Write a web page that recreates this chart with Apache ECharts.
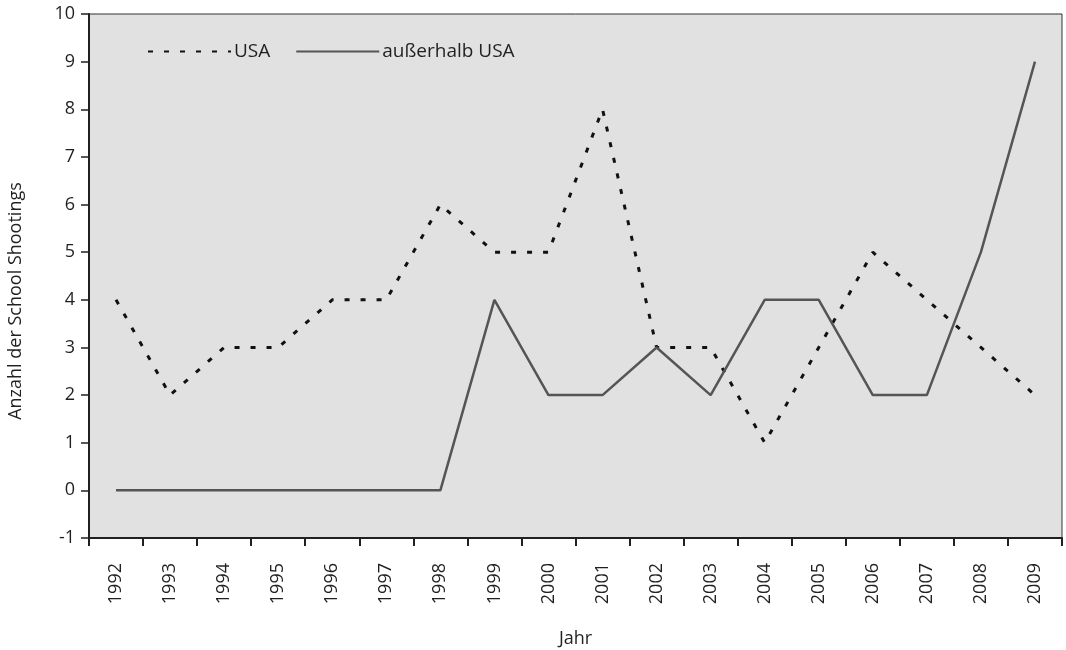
<!DOCTYPE html>
<html>
<head>
<meta charset="utf-8">
<script src="https://cdn.jsdelivr.net/npm/echarts@6/dist/echarts.min.js"></script>
<style>
  html, body { margin: 0; padding: 0; background: #fff; }
  #chart { width: 1066px; height: 650px; }
</style>
</head>
<body>
<div id="chart"></div>
<script>
var years = ['1992', '1993', '1994', '1995', '1996', '1997', '1998', '1999', '2000',
  '2001', '2002', '2003', '2004', '2005', '2006', '2007', '2008', '2009']
var usa = [4, 2, 3, 3, 4, 4, 6, 5, 5, 8, 3, 3, 1, 3, 5, 4, 3, 2]
var outsideUsa = [0, 0, 0, 0, 0, 0, 0, 4, 2, 2, 3, 2, 4, 4, 2, 2, 5, 9]

var font = '"Open Sans", "Noto Sans", sans-serif'
var ink = '#231f20'

var chart = echarts.init(document.getElementById('chart'), null, { renderer: 'canvas' })

var option = {
  animation: false,
  textStyle: { fontFamily: font, color: ink },
  grid: {
    left: 89,
    right: 4,
    top: 14,
    bottom: 112,
    outerBoundsMode: 'none',
    containLabel: false,
    show: true,
    backgroundColor: '#e1e1e1',
    borderColor: '#333',
    borderWidth: 1
  },
  legend: {
    left: 142,
    top: 37,
    itemWidth: 83,
    itemHeight: 14,
    itemGap: 25,
    itemStyle: { opacity: 0 },
    textStyle: { fontFamily: font, fontSize: 19, color: ink, padding: [0, 0, 0, -2] },
    data: ['USA', 'außerhalb USA']
  },
  xAxis: {
    type: 'category',
    data: years,
    boundaryGap: true,
    name: 'Jahr',
    nameLocation: 'middle',
    nameGap: 92,
    nameTextStyle: { fontFamily: font, fontSize: 18, color: ink },
    axisLine: { onZero: false, lineStyle: { color: ink, width: 2 } },
    axisTick: { show: true, length: 8, alignWithLabel: false, lineStyle: { color: ink, width: 2 } },
    axisLabel: { rotate: 90, margin: 25, fontFamily: font, fontSize: 18, color: ink },
    splitLine: { show: false }
  },
  yAxis: {
    type: 'value',
    min: -1,
    max: 10,
    interval: 1,
    name: 'Anzahl der School Shootings',
    nameLocation: 'middle',
    nameGap: 64,
    nameTextStyle: { fontFamily: font, fontSize: 18, color: ink, padding: [0, 50, 0, 0] },
    axisLine: { show: true, lineStyle: { color: ink, width: 2 } },
    axisTick: { show: true, length: 8, lineStyle: { color: ink, width: 1.5 } },
    axisLabel: { margin: 14, fontFamily: font, fontSize: 18, color: ink },
    splitLine: { show: false }
  },
  series: [
    {
      name: 'USA',
      type: 'line',
      data: usa,
      showSymbol: false,
      symbol: 'none',
      itemStyle: { color: '#111' },
      lineStyle: { color: '#111', width: 3, type: [5, 11] }
    },
    {
      name: 'außerhalb USA',
      type: 'line',
      data: outsideUsa,
      showSymbol: false,
      symbol: 'none',
      itemStyle: { color: '#555' },
      lineStyle: { color: '#555', width: 2.5 }
    }
  ]
}

chart.setOption(option)
</script>
</body>
</html>
